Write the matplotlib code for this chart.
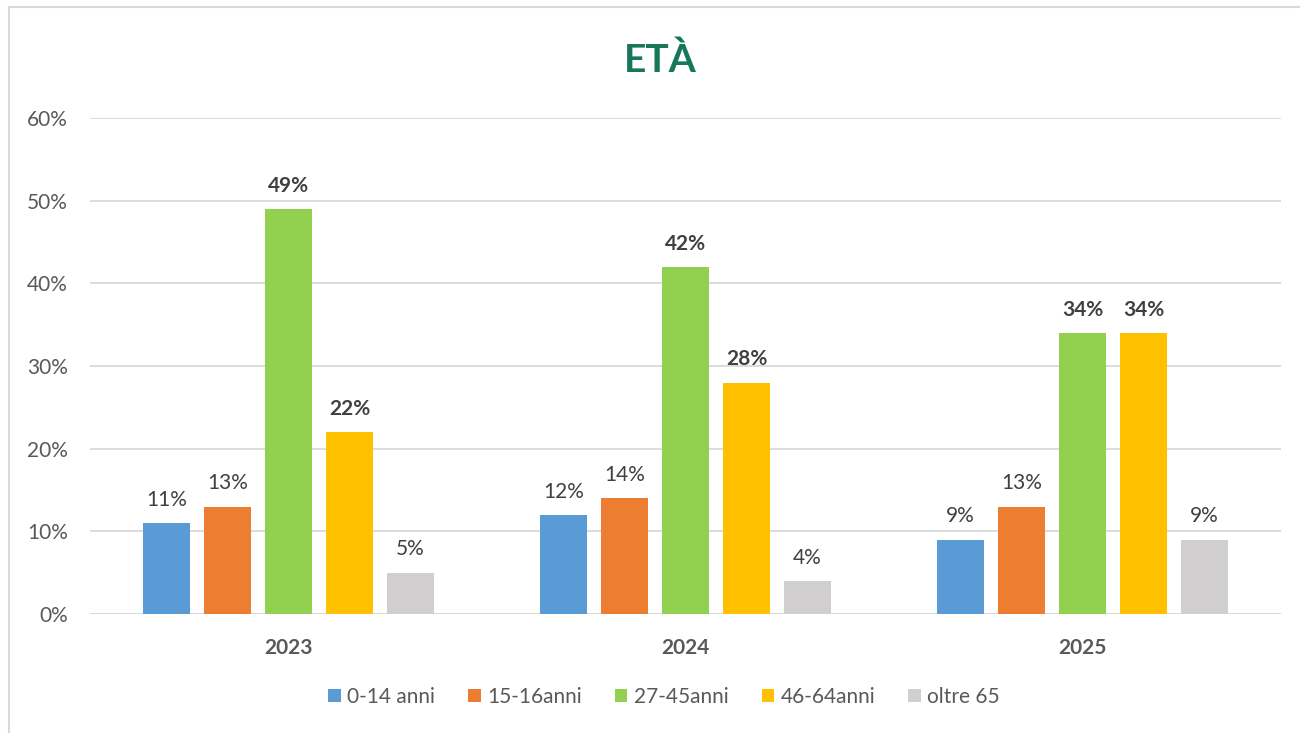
import numpy as np
import matplotlib.pyplot as plt
from matplotlib.lines import Line2D

plt.rcParams['font.family'] = ['Lato', 'DejaVu Sans']

# Dati
anni = ['2023', '2024', '2025']
fasce = ['0-14 anni', '15-16anni', '27-45anni', '46-64anni', 'oltre 65']
valori = [
    [11, 12, 9],
    [13, 14, 13],
    [49, 42, 34],
    [22, 28, 34],
    [5, 4, 9],
]
colori = ['#5B9BD5', '#ED7D31', '#92D050', '#FFC000', '#D0CECE']
grassetto = [False, False, True, True, False]

grigio = '#595959'

fig = plt.figure(figsize=(13, 7.33), dpi=100)
ax = fig.add_axes([90 / 1300, 1 - 614 / 733, 1191 / 1300, 496 / 733])

x = np.arange(len(anni))
larg = 0.118
passo = 0.1537

for i, (serie, col) in enumerate(zip(valori, colori)):
    pos = x + (i - 2) * passo
    v = np.array(serie) / 100
    ax.bar(pos, v, width=larg, color=col, label=fasce[i], zorder=3)
    for px, py in zip(pos, v):
        ax.text(px, py + 0.016, f'{py * 100:.0f}%', ha='center', va='bottom',
                fontsize=15, color='#404040',
                fontweight='bold' if grassetto[i] else 'normal')

ax.set_xlim(-0.5, 2.5)
ax.set_ylim(0, 0.6)
ax.set_yticks(np.arange(0, 0.61, 0.1))
ax.set_yticklabels([f'{t}%' for t in range(0, 61, 10)], fontsize=15, color=grigio)
ax.set_xticks(x)
ax.set_xticklabels(anni, fontsize=15, fontweight='bold', color=grigio)
ax.tick_params(axis='both', length=0)
ax.tick_params(axis='x', pad=17)
ax.tick_params(axis='y', pad=16)
ax.grid(axis='y', color='#D9D9D9', linewidth=1.3, zorder=0)
for s in ax.spines.values():
    s.set_visible(False)
ax.axhline(0, color='#D9D9D9', linewidth=1.3, zorder=2)

fig.text(660 / 1300, 1 - 60 / 733, 'ETÀ', ha='center', va='center',
         fontsize=28, fontweight='bold', color='#17775A')

fig.legend(loc='center', bbox_to_anchor=(664 / 1300, 1 - 697 / 733), ncol=5,
           frameon=False, fontsize=15, labelcolor=grigio, handlelength=0.6,
           handleheight=0.6, handletextpad=0.3, columnspacing=1.6)

# Bordo del grafico
fig.add_artist(Line2D([9 / 1300, 9 / 1300], [0, 1 - 7 / 733], color='#D9D9D9', lw=1.5))
fig.add_artist(Line2D([9 / 1300, 1], [1 - 7 / 733, 1 - 7 / 733], color='#D9D9D9', lw=1.5))

plt.savefig('out.png', dpi=100)
